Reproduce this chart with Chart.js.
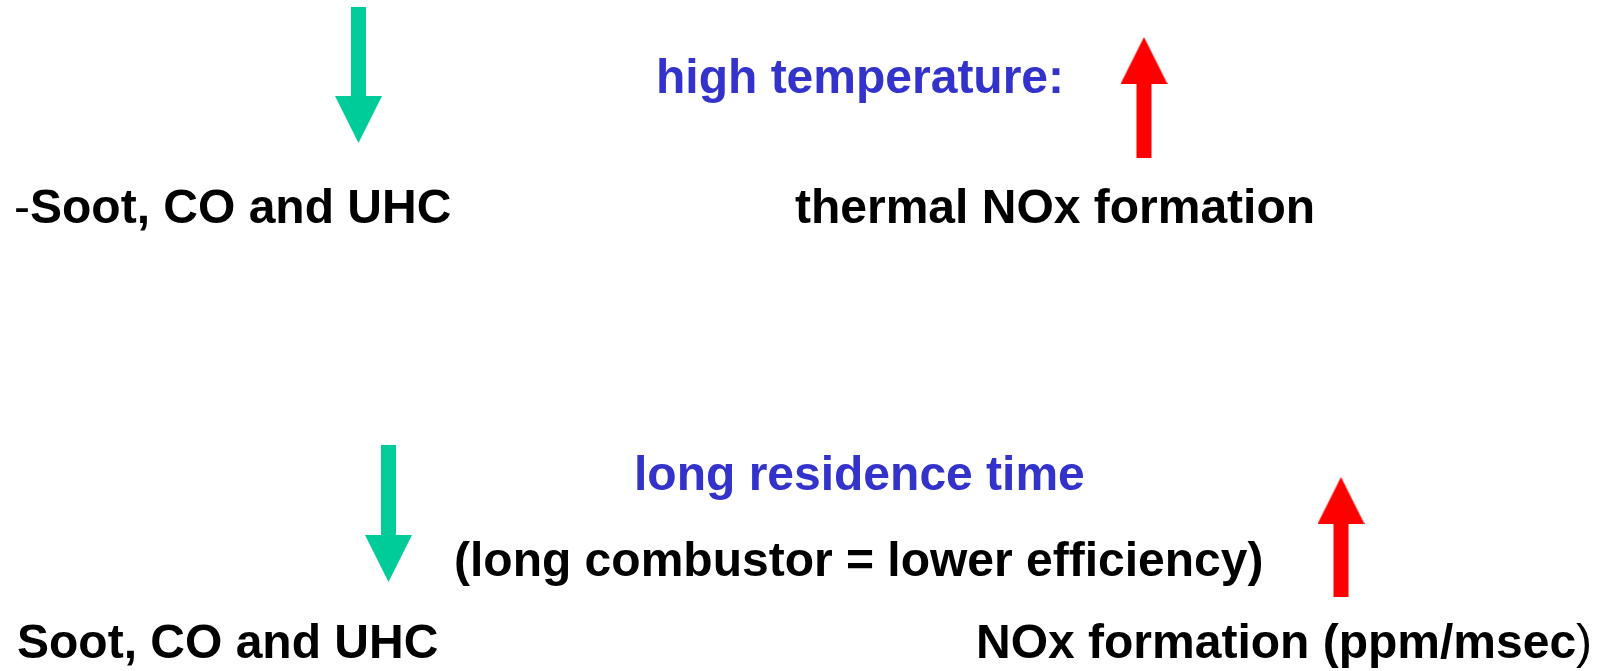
<!DOCTYPE html>
<html>
<head>
<meta charset="utf-8">
<script src="https://cdn.jsdelivr.net/npm/chart.js@4/dist/chart.umd.min.js"></script>
<style>
  html, body { margin: 0; padding: 0; background: #fff; }
</style>
</head>
<body>
<canvas id="slide" width="1599" height="671"></canvas>
<script>
// what the slide says
const factors = ['high temperature:', 'long residence time']
const notes = ['', '(long combustor = lower efficiency)']
const sootLabels = ['-Soot, CO and UHC', 'Soot, CO and UHC']
const noxLabels = ['thermal NOx formation', 'NOx formation (ppm/msec)']
const sootTrend = ['down', 'down']
const noxTrend = ['up', 'up']

const colors = {
  factor: '#3333cc',
  text: '#000000',
  down: '#00cc99',
  up: '#ff0000',
}
const font = '"Liberation Sans", Arial, sans-serif'

// slide layout (x / y in slide pixels, y measured from the top)
const layout = [
  {
    factor: { x: 656, y: 93 },
    note: null,
    soot: { x: 14, y: 223, thinFirst: true },
    nox: { x: 795, y: 223 },
    sootArrow: { x: 358.5, tail: 7, tip: 143 },
    noxArrow: { x: 1144, tail: 158, tip: 37 },
  },
  {
    factor: { x: 634, y: 490 },
    note: { x: 454, y: 576 },
    soot: { x: 17, y: 658 },
    nox: { x: 976, y: 658, thinLast: true },
    sootArrow: { x: 388.5, tail: 445, tip: 582 },
    noxArrow: { x: 1341, tail: 597, tip: 477 },
  },
]
const HEAD_W = 47
const HEAD_H = 47
const SHAFT_W = 15

function makeHead(color) {
  const c = document.createElement('canvas')
  c.width = HEAD_W
  c.height = HEAD_H
  const g = c.getContext('2d')
  g.fillStyle = color
  g.beginPath()
  g.moveTo(HEAD_W / 2, 0)
  g.lineTo(HEAD_W, HEAD_H)
  g.lineTo(0, HEAD_H)
  g.closePath()
  g.fill()
  return c
}
const heads = { up: makeHead(colors.up), down: makeHead(colors.down) }

function arrowDataset(arrow, trend) {
  const dir = trend === 'up' ? -1 : 1
  const headCenter = arrow.tip - dir * HEAD_H / 2
  return {
    data: [{ x: arrow.x, y: arrow.tail }, { x: arrow.x, y: headCenter }],
    borderColor: colors[trend],
    borderWidth: SHAFT_W,
    borderCapStyle: 'butt',
    pointRadius: [0, 1],
    pointStyle: heads[trend],
    pointRotation: trend === 'up' ? 0 : 180,
    showLine: true,
    clip: false,
  }
}

const datasets = []
layout.forEach((row, i) => {
  datasets.push(arrowDataset(row.sootArrow, sootTrend[i]))
  datasets.push(arrowDataset(row.noxArrow, noxTrend[i]))
})

function drawLabel(ctx, text, x, y, color, opts) {
  opts = opts || {}
  const runs = []
  if (opts.thinFirst) {
    runs.push(['normal', text.slice(0, 1)], ['bold', text.slice(1)])
  } else if (opts.thinLast) {
    runs.push(['bold', text.slice(0, -1)], ['normal', text.slice(-1)])
  } else {
    runs.push(['bold', text])
  }
  ctx.fillStyle = color
  ctx.textBaseline = 'alphabetic'
  ctx.textAlign = 'left'
  let cx = x
  runs.forEach(([weight, t]) => {
    ctx.font = `${weight} 48px ${font}`
    ctx.fillText(t, cx, y)
    cx += ctx.measureText(t).width
  })
}

const slideText = {
  id: 'slideText',
  afterDatasetsDraw(chart) {
    const { ctx, scales: { x, y } } = chart
    ctx.save()
    layout.forEach((row, i) => {
      const px = p => x.getPixelForValue(p.x)
      const py = p => y.getPixelForValue(p.y)
      drawLabel(ctx, factors[i], px(row.factor), py(row.factor), colors.factor)
      if (row.note && notes[i]) drawLabel(ctx, notes[i], px(row.note), py(row.note), colors.text)
      drawLabel(ctx, sootLabels[i], px(row.soot), py(row.soot), colors.text, row.soot)
      drawLabel(ctx, noxLabels[i], px(row.nox), py(row.nox), colors.text, row.nox)
    })
    ctx.restore()
  },
}

new Chart(document.getElementById('slide'), {
  type: 'scatter',
  data: { datasets },
  options: {
    responsive: false,
    animation: false,
    events: [],
    layout: { padding: 0, autoPadding: false },
    scales: {
      x: { type: 'linear', min: 0, max: 1599, display: false },
      y: { type: 'linear', min: 0, max: 671, reverse: true, display: false },
    },
    plugins: {
      legend: { display: false },
      tooltip: { enabled: false },
    },
  },
  plugins: [slideText],
})
</script>
</body>
</html>
